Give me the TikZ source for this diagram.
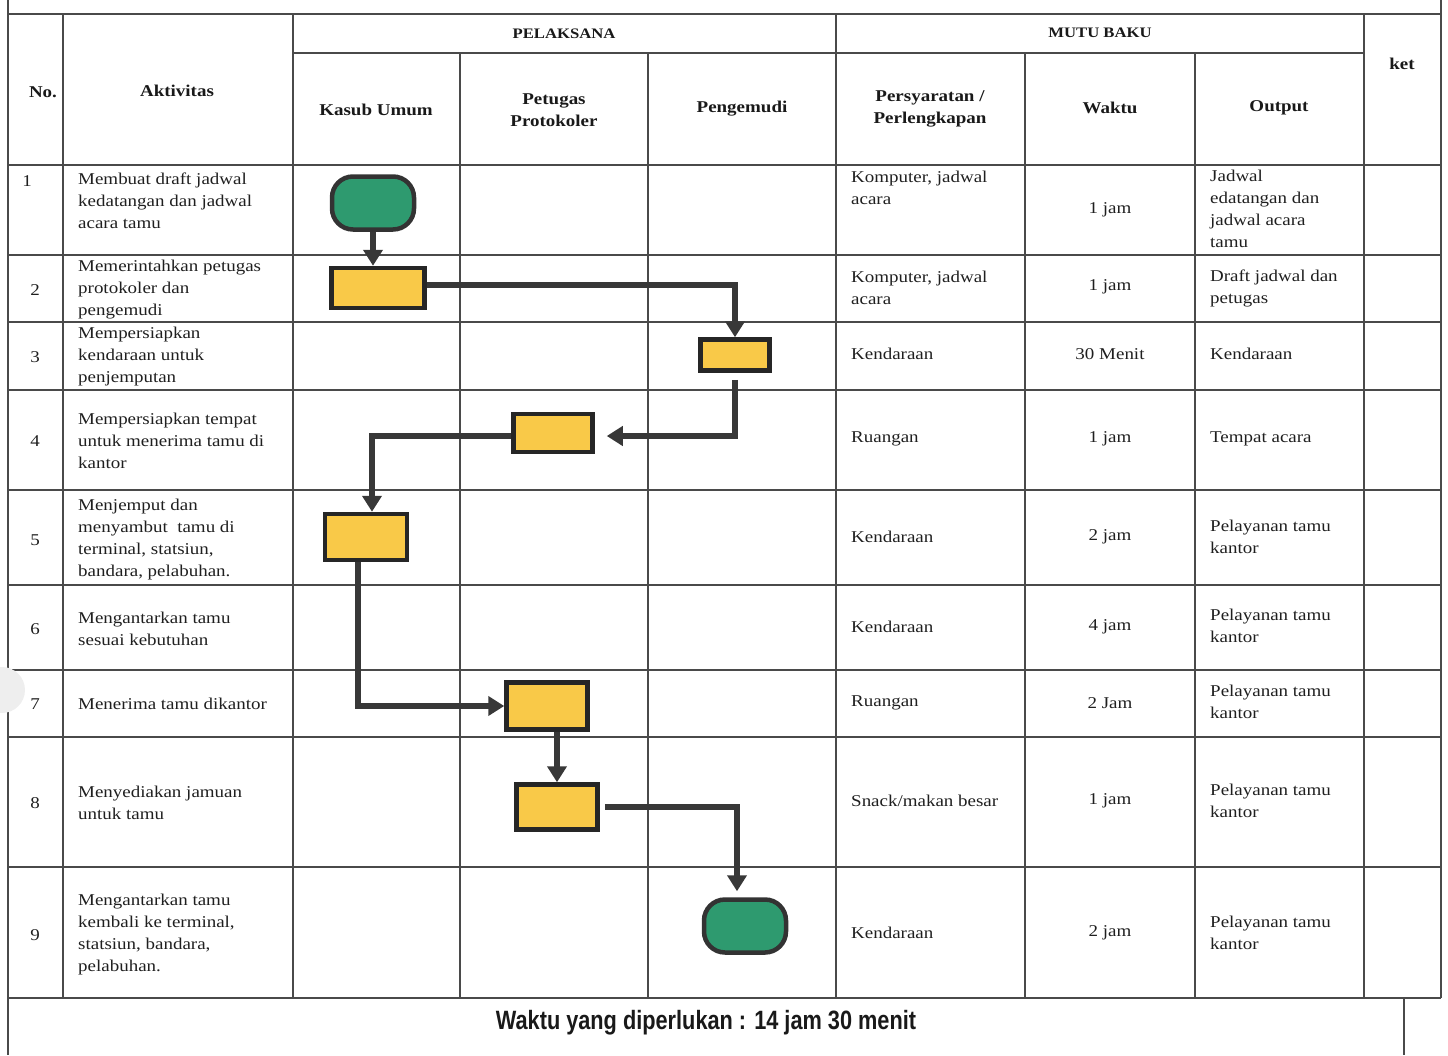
\documentclass[tikz,border=0pt]{standalone}
\usepackage{fontspec}
\setmainfont{Liberation Serif}[FakeStretch=1.15]
\newfontfamily\narrowsans{Liberation Sans}[FakeStretch=0.82]
\usetikzlibrary{arrows.meta,positioning}
\definecolor{termgreen}{HTML}{2E9A6F}
\definecolor{procyellow}{HTML}{F9C948}
\definecolor{inkgray}{HTML}{383838}
\definecolor{gridgray}{HTML}{4A4A4A}
\tikzset{
grid/.style={gridgray,line width=1.3pt},
proc/.style={draw=black!85,line width=4.5pt,fill=procyellow,inner sep=0pt},
term/.style={draw=black!80,line width=4.5pt,fill=termgreen,rounded corners=21pt,minimum width=82pt,minimum height=53pt,inner sep=0pt},
flow/.style={inkgray,line width=5.5pt,-{Triangle[length=16pt,width=19pt]}},
cell/.style={align=left,anchor=west,inner sep=0pt,text=black!88,font=\fontsize{16.5}{22}\selectfont},
cellc/.style={align=center,inner sep=0pt,text=black!88,font=\fontsize{16.5}{22}\selectfont},
head/.style={align=center,inner sep=0pt,text=black!90,font=\bfseries\fontsize{16.5}{22}\selectfont},
toph/.style={align=center,inner sep=0pt,text=black!90,font=\bfseries\fontsize{14.5}{18}\selectfont}
}
\begin{document}
\begin{tikzpicture}[x=1pt,y=-1pt]
\useasboundingbox (0,0) rectangle (1448,1055);
\foreach \y in {14,165,255,322,390,490,585,670,737,867,998} \draw[grid] (8,\y) -- (1441,\y);
\draw[grid] (293,53) -- (1364,53);
\foreach \x in {63,293,836,1364} \draw[grid] (\x,14) -- (\x,998);
\foreach \x in {460,648,1025,1195} \draw[grid] (\x,53) -- (\x,998);
\draw[grid] (8,0) -- (8,1055) (1441,0) -- (1441,998) (1404,998) -- (1404,1055);
\fill[gray!13] (2,690) circle (23pt);
\node[toph] (hpel) at (564,34) {PELAKSANA};
\node[toph] (hmutu) at (1100,33) {MUTU BAKU};
\node[head] (hno) at (43,92) {No.};
\node[head] (hakt) at (177,91) {Aktivitas};
\node[head] (hkasub) at (376,110) {Kasub Umum};
\node[head] (hpetugas) at (554,110) {Petugas\\Protokoler};
\node[head] (hpeng) at (742,109) {Pengemudi};
\node[head] (hsyarat) at (930,109) {Persyaratan /\\Perlengkapan};
\node[head] (hwaktu) at (1110,108) {Waktu};
\node[head] (houtput) at (1279,108) {Output};
\node[head] (hket) at (1402,64) {ket};
\node[cellc] (n1) at (27,181) {1};
\node[cellc] (n2) at (35,290) {2};
\node[cellc] (n3) at (35,357) {3};
\node[cellc] (n4) at (35,441) {4};
\node[cellc] (n5) at (35,540) {5};
\node[cellc] (n6) at (35,629) {6};
\node[cellc] (n7) at (35,704) {7};
\node[cellc] (n8) at (35,803) {8};
\node[cellc] (n9) at (35,935) {9};
\node[cell] (a1) at (78,201) {Membuat draft jadwal\\kedatangan dan jadwal\\acara tamu};
\node[cell] (a2) at (78,290) {Memerintahkan petugas\\protokoler dan\\pengemudi};
\node[cell] (a3) at (78,357) {Mempersiapkan\\kendaraan untuk\\penjemputan};
\node[cell] (a4) at (78,441) {Mempersiapkan tempat\\untuk menerima tamu di\\kantor};
\node[cell] (a5) at (78,540) {Menjemput dan\\menyambut\ \ tamu di\\terminal, statsiun,\\bandara, pelabuhan.};
\node[cell] (a6) at (78,629) {Mengantarkan tamu\\sesuai kebutuhan};
\node[cell] (a7) at (78,704) {Menerima tamu dikantor};
\node[cell] (a8) at (78,803) {Menyediakan jamuan\\untuk tamu};
\node[cell] (a9) at (78,935) {Mengantarkan tamu\\kembali ke terminal,\\statsiun, bandara,\\pelabuhan.};
\node[cell] (s1) at (851,188) {Komputer, jadwal\\acara};
\node[cell] (s2) at (851,288) {Komputer, jadwal\\acara};
\node[cell] (s3) at (851,354) {Kendaraan};
\node[cell] (s4) at (851,439) {Ruangan};
\node[cell] (s5) at (851,537) {Kendaraan};
\node[cell] (s6) at (851,627) {Kendaraan};
\node[cell] (s7) at (851,703) {Ruangan};
\node[cell] (s8) at (851,801) {Snack/makan besar};
\node[cell] (s9) at (851,933) {Kendaraan};
\node[cellc] (w1) at (1110,210) {1 jam};
\node[cellc] (w2) at (1110,287) {1 jam};
\node[cellc] (w3) at (1110,354) {30 Menit};
\node[cellc] (w4) at (1110,439) {1 jam};
\node[cellc] (w5) at (1110,537) {2 jam};
\node[cellc] (w6) at (1110,627) {4 jam};
\node[cellc] (w7) at (1110,703) {2 Jam};
\node[cellc] (w8) at (1110,801) {1 jam};
\node[cellc] (w9) at (1110,933) {2 jam};
\node[cell] (o1) at (1210,209) {Jadwal\\edatangan dan\\jadwal acara\\tamu};
\node[cell] (o2) at (1210,288) {Draft jadwal dan\\petugas};
\node[cell] (o3) at (1210,354) {Kendaraan};
\node[cell] (o4) at (1210,439) {Tempat acara};
\node[cell] (o5) at (1210,537) {Pelayanan tamu\\kantor};
\node[cell] (o6) at (1210,626) {Pelayanan tamu\\kantor};
\node[cell] (o7) at (1210,702) {Pelayanan tamu\\kantor};
\node[cell] (o8) at (1210,801) {Pelayanan tamu\\kantor};
\node[cell] (o9) at (1210,933) {Pelayanan tamu\\kantor};
\node[inner sep=0pt,text=black!90,font=\narrowsans\bfseries\fontsize{26.5}{30}\selectfont] (total) at (706,1023) {Waktu yang diperlukan : 14 jam 30 menit};
\node[term] (start) at (373,203) {};
\node[proc,minimum width=93pt,minimum height=40pt] (p2) at (378,288) {};
\node[proc,minimum width=69pt,minimum height=31pt] (p3) at (735,355) {};
\node[proc,minimum width=79pt,minimum height=38pt] (p4) at (553,433) {};
\node[proc,minimum width=82pt,minimum height=46pt] (p5) at (366,537) {};
\node[proc,minimum width=81pt,minimum height=47pt] (p7) at (547,706) {};
\node[proc,minimum width=81pt,minimum height=45pt] (p8) at (557,807) {};
\node[term] (end) at (745,926) {};
\draw[flow] (start.south) -- (start.south |- p2.north);
\draw[flow] ([yshift=3pt]p2.east) -| (p3.north);
\draw[flow,shorten <=7pt,shorten >=12pt] (p3.south) |- ([yshift=-3pt]p4.east);
\draw[flow] ([yshift=-3pt]p4.west) -| ([xshift=6pt]p5.north);
\draw[flow] ([xshift=-8pt]p5.south) |- (p7.west);
\draw[flow] ([xshift=10pt]p7.south) -- ([xshift=10pt]p7.south |- p8.north);
\draw[flow,shorten <=5pt,shorten >=6pt] (p8.east) -| ([xshift=-8pt]end.north);
\end{tikzpicture}
\end{document}
